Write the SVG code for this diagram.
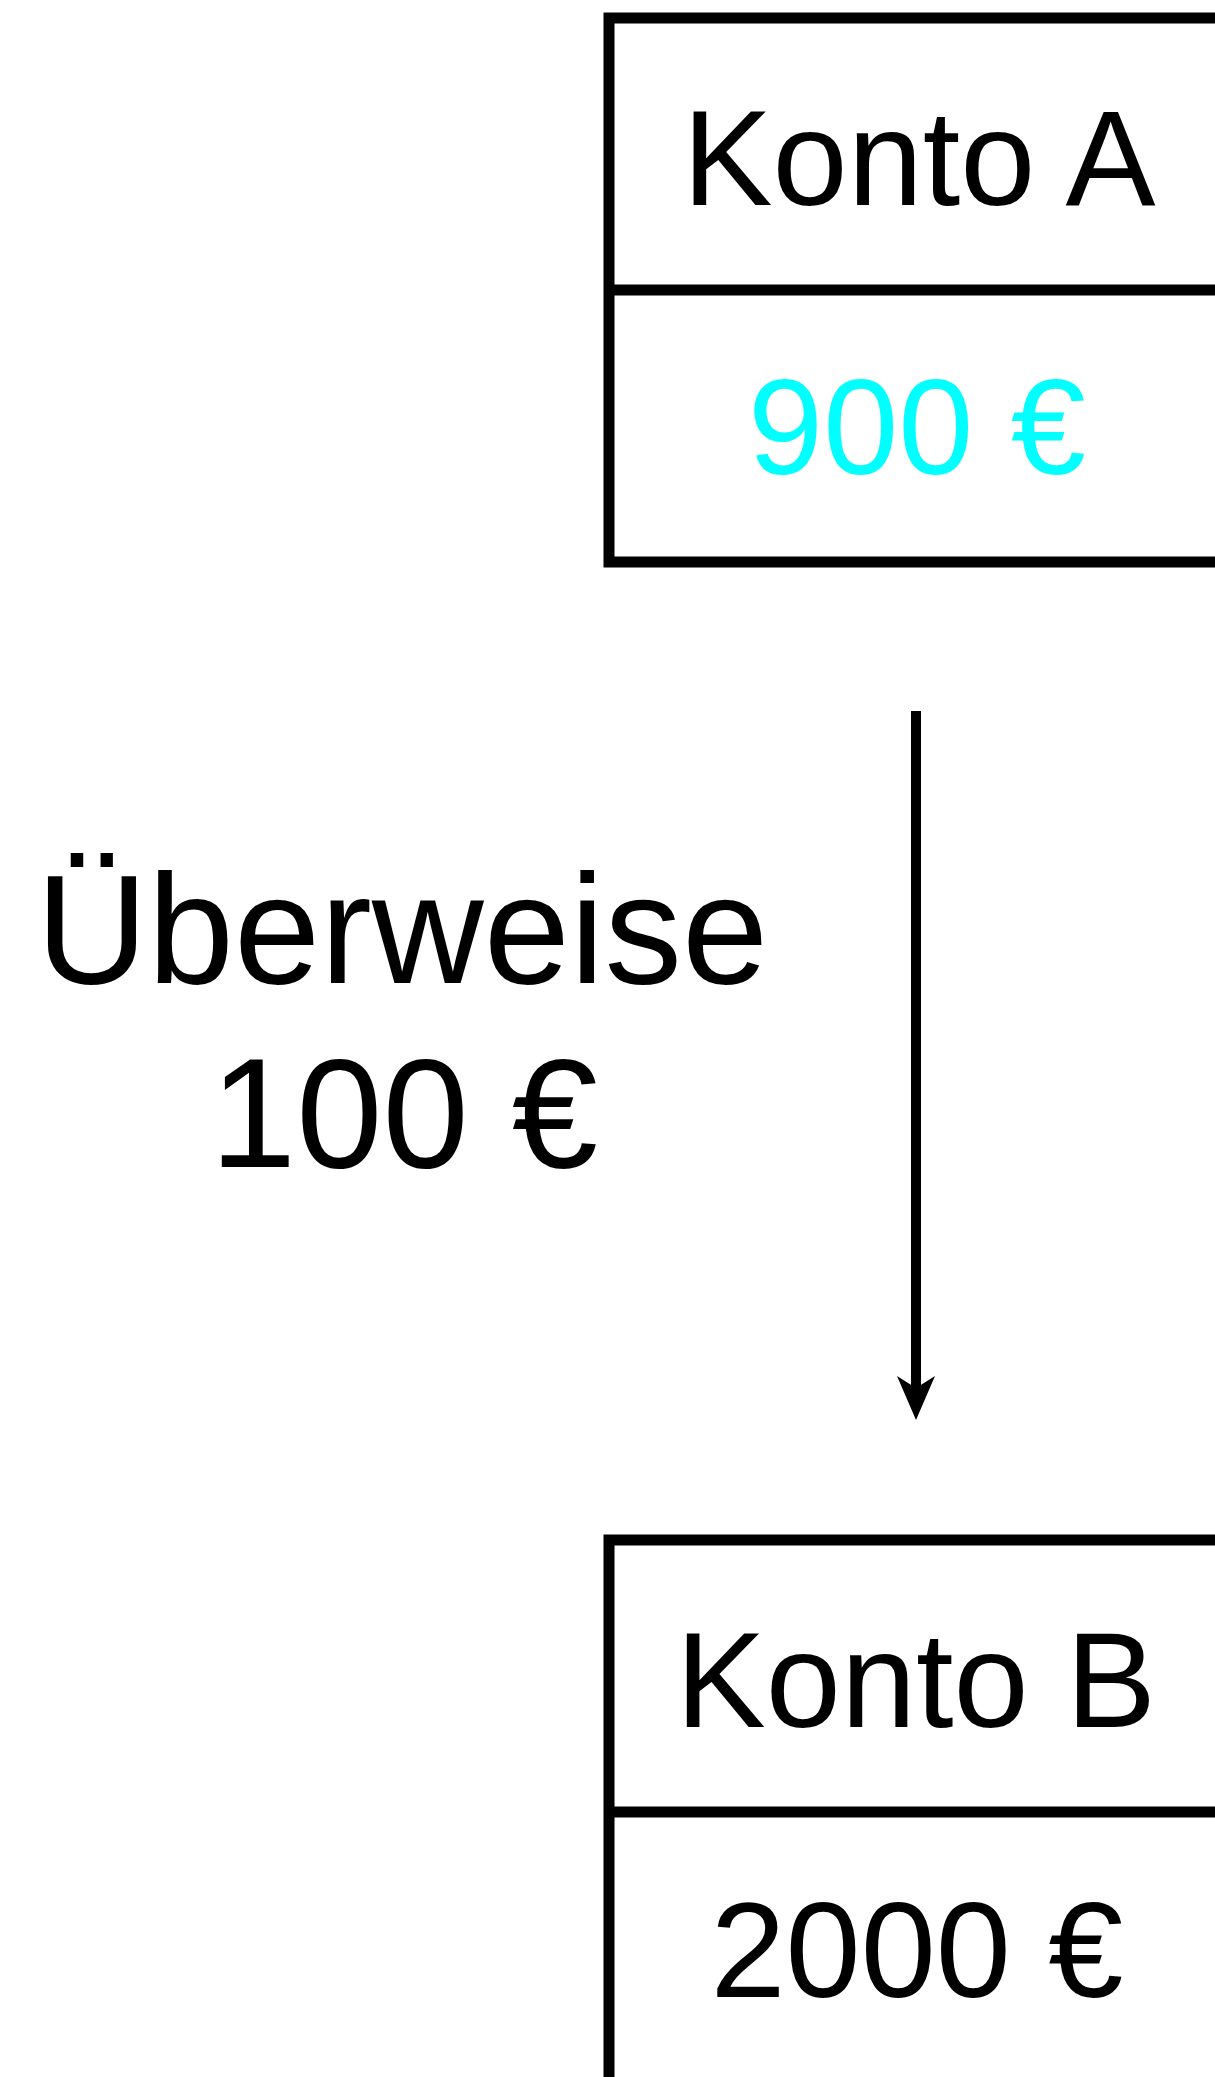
<svg xmlns="http://www.w3.org/2000/svg" width="1215" height="2077" viewBox="0 0 1215 2077">
  <style>
    .box { fill: #ffffff; stroke: #000000; stroke-width: 11; }
    .div { stroke: #000000; stroke-width: 11; }
    .t { font-family: "Liberation Sans", Arial, Helvetica, sans-serif; text-anchor: middle; fill: #000000; }
    .cell { font-size: 135px; }
    .lbl { font-size: 155px; }
    .edge { stroke: #000000; stroke-width: 10; fill: none; }
  </style>
  <rect width="1215" height="2077" fill="#ffffff"/>

  <!-- account A: name row + balance row -->
  <g id="konto-a">
    <rect class="box" x="609" y="18" width="612" height="544"/>
    <line class="div" x1="609" y1="290" x2="1221" y2="290"/>
    <text class="t cell" x="919" y="205">Konto A</text>
    <text class="t cell" x="917" y="474" style="fill:#00ffff">900 €</text>
  </g>

  <!-- account B: name row + balance row -->
  <g id="konto-b">
    <rect class="box" x="609" y="1540" width="612" height="546"/>
    <line class="div" x1="609" y1="1812" x2="1221" y2="1812"/>
    <text class="t cell" x="916" y="1727">Konto B</text>
    <text class="t cell" x="917" y="1997">2000 €</text>
  </g>

  <!-- transfer label -->
  <g id="transfer-label">
    <text class="t lbl" x="402" y="983">Überweise</text>
    <text class="t lbl" x="404" y="1167">100 €</text>
  </g>

  <!-- transfer arrow A -> B -->
  <g id="connectors">
    <line class="edge" x1="916" y1="711" x2="916" y2="1392"/>
    <path d="M916,1420 L897,1376 L916,1388 L935,1376 Z" fill="#000000"/>
  </g>
</svg>
